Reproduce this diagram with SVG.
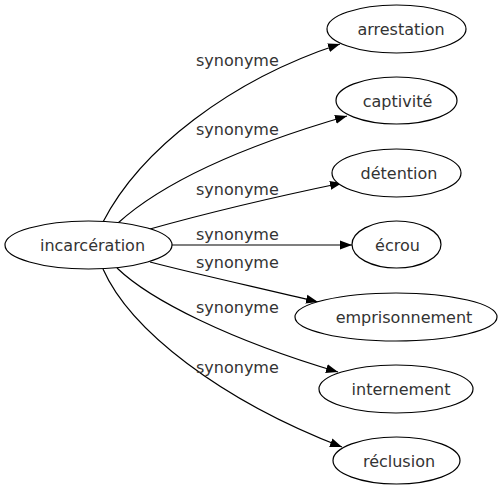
<svg xmlns="http://www.w3.org/2000/svg" width="502" height="491" viewBox="0 0 502 491">
<defs>
<style>
.node ellipse{fill:#fff;stroke:#000;stroke-width:1.2}
.node text{font-family:"DejaVu Sans",sans-serif;font-size:16px;fill:#333;text-anchor:middle}
.edge path{fill:none;stroke:#000;stroke-width:1.2}
.lbl{font-family:"DejaVu Sans",sans-serif;font-size:16px;fill:#333}
</style>
<marker id="arr" markerUnits="userSpaceOnUse" markerWidth="14" markerHeight="10" viewBox="0 -5 14 10" refX="12" refY="0" orient="auto">
<path d="M0,-4.5 L12,0 L0,4.5 z" fill="#000"/>
</marker>
</defs>
<rect width="502" height="491" fill="#fff"/>
<g id="edges" class="edge">
<path d="M103,222 C140,150 230,80 340,44" marker-end="url(#arr)"/>
<path d="M118,223 C160,185 230,150 347,116" marker-end="url(#arr)"/>
<path d="M150,229 C200,215 260,200 342,183" marker-end="url(#arr)"/>
<path d="M172,245 L352,245" marker-end="url(#arr)"/>
<path d="M150,262 C200,275 260,288 318,302" marker-end="url(#arr)"/>
<path d="M117,268 C150,300 230,340 338,372" marker-end="url(#arr)"/>
<path d="M103,269 C130,330 220,400 342,447" marker-end="url(#arr)"/>
<text class="lbl" x="196" y="66">synonyme</text>
<text class="lbl" x="196" y="135">synonyme</text>
<text class="lbl" x="196" y="195">synonyme</text>
<text class="lbl" x="196" y="240">synonyme</text>
<text class="lbl" x="196" y="268">synonyme</text>
<text class="lbl" x="196" y="313">synonyme</text>
<text class="lbl" x="196" y="373">synonyme</text>
</g>
<g id="incarceration" class="node"><ellipse cx="88.5" cy="245" rx="83.5" ry="24"/><text x="92.5" y="251">incarcération</text></g>
<g id="arrestation" class="node"><ellipse cx="396.5" cy="29" rx="69.5" ry="24"/><text x="401" y="35">arrestation</text></g>
<g id="captivite" class="node"><ellipse cx="396.5" cy="100.5" rx="60.5" ry="23.5"/><text x="397.5" y="106.5">captivité</text></g>
<g id="detention" class="node"><ellipse cx="396.5" cy="173" rx="64.5" ry="24"/><text x="399" y="179">détention</text></g>
<g id="ecrou" class="node"><ellipse cx="396.5" cy="244.5" rx="44.5" ry="23.5"/><text x="397.5" y="250.5">écrou</text></g>
<g id="emprisonnement" class="node"><ellipse cx="396" cy="317" rx="101" ry="24"/><text x="404" y="323">emprisonnement</text></g>
<g id="internement" class="node"><ellipse cx="396" cy="389" rx="77" ry="24"/><text x="401" y="395">internement</text></g>
<g id="reclusion" class="node"><ellipse cx="396.5" cy="460.5" rx="63.5" ry="23.5"/><text x="399" y="466.5">réclusion</text></g>
</svg>
